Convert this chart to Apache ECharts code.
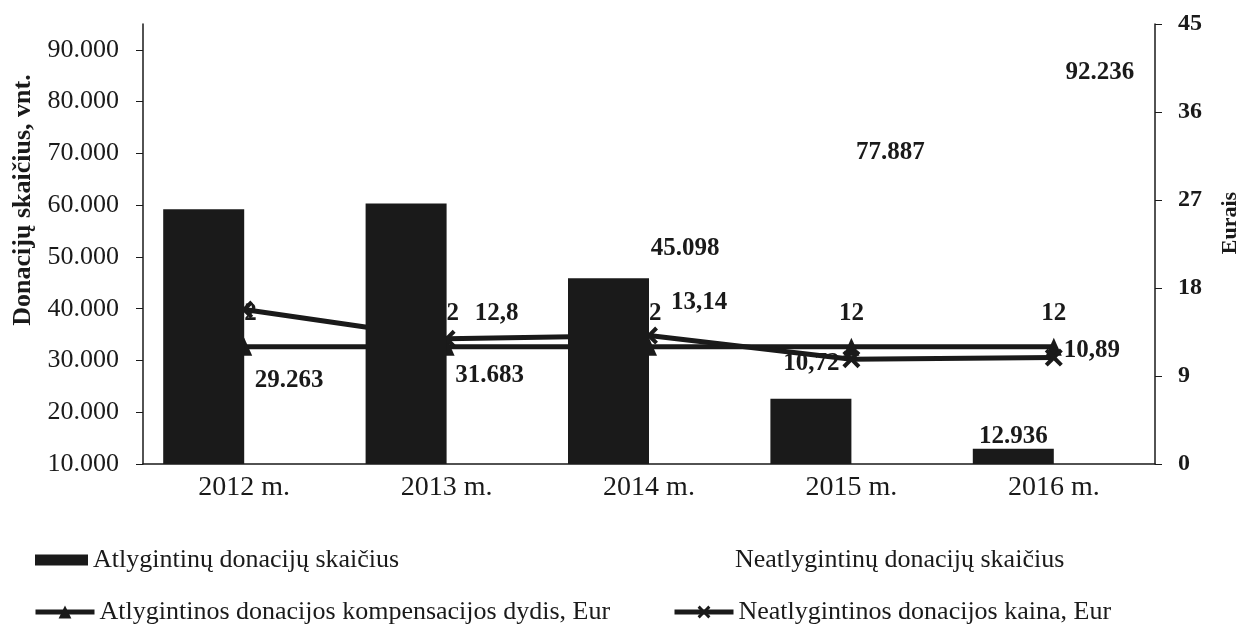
<!DOCTYPE html>
<html>
<head>
<meta charset="utf-8">
<script src="https://cdn.jsdelivr.net/npm/echarts@6/dist/echarts.min.js"></script>
<style>
  html, body { margin: 0; padding: 0; background: #fff; }
  #chart { width: 1249px; height: 630px; }
</style>
</head>
<body>
<div id="chart"></div>
<script>
const years = ['2012 m.', '2013 m.', '2014 m.', '2015 m.', '2016 m.']
const paidCount = [59200, 60300, 45900, 22600, 12936]
const unpaidCount = [29263, 31683, 45098, 77887, 92236]
const paidCompensation = [12, 12, 12, 12, 12]
const unpaidCost = [15.8, 12.8, 13.14, 10.72, 10.89]

const INK = '#1a1a1a'
const FONT = '"Liberation Serif", "Times New Roman", serif'

// label placement (Excel labels were dragged by hand)
const unpaidLabelPos = [[45, 16], [43, 24], [36, -34], [39, 40], [46, 34]]
const costLabelOffset = [[-40, 0], [50, -25], [50, -33], [-40, 4], [38, -7]]

function fmtCount(v) {
  return Math.floor(v / 1000) + '.' + String(v % 1000).padStart(3, '0')
}
function fmtEur(v) {
  return String(v).replace('.', ',')
}

const xSymbol = 'path://M0,1.6L1.6,0L5,3.4L8.4,0L10,1.6L6.6,5L10,8.4L8.4,10L5,6.6L1.6,10L0,8.4L3.4,5Z'

const labelText = { fontFamily: FONT, fontWeight: 'bold', fontSize: 25, color: INK }
const legendText = { fontFamily: FONT, fontSize: 26, color: INK }

const chart = echarts.init(document.getElementById('chart'))

chart.setOption({
  animation: false,
  backgroundColor: '#fff',
  textStyle: { fontFamily: FONT, color: INK },
  grid: { left: 143, right: 89, top: 24, bottom: 166 },
  legend: [
    { left: 30, top: 542, icon: 'rect', itemWidth: 53, itemHeight: 11, data: ['Atlygintinų donacijų skaičius'] },
    { left: 672, top: 542, icon: 'rect', itemWidth: 53, itemHeight: 11, data: ['Neatlygintinų donacijų skaičius'] },
    { left: 28, top: 594, itemWidth: 59, itemHeight: 16, data: ['Atlygintinos donacijos kompensacijos dydis, Eur'] },
    { left: 667, top: 594, itemWidth: 59, itemHeight: 16, data: ['Neatlygintinos donacijos kaina, Eur'] }
  ].map(l => Object.assign({
    textStyle: legendText,
    lineStyle: { width: 5 },
    selectedMode: false
  }, l)),
  xAxis: {
    type: 'category',
    data: years,
    axisLine: { lineStyle: { color: INK, width: 1.5 } },
    axisTick: { lineStyle: { color: INK }, length: 7 },
    axisLabel: { fontFamily: FONT, fontSize: 28, color: INK, margin: 10 }
  },
  yAxis: [
    {
      type: 'value',
      min: 10000,
      max: 95000,
      interval: 10000,
      name: 'Donacijų skaičius, vnt.',
      nameLocation: 'middle',
      nameRotate: 90,
      nameGap: 107,
      nameTextStyle: { fontFamily: FONT, fontWeight: 'bold', fontSize: 26, color: INK, padding: [0, 0, 0, 88] },
      axisLine: { show: true, lineStyle: { color: INK, width: 1.5 } },
      axisTick: { show: true, length: 7, lineStyle: { color: INK } },
      axisLabel: { fontFamily: FONT, fontSize: 26, color: INK, margin: 24, showMaxLabel: false, formatter: fmtCount },
      splitLine: { show: false }
    },
    {
      type: 'value',
      min: 0,
      max: 45,
      interval: 9,
      position: 'right',
      name: 'Eurais',
      nameLocation: 'middle',
      nameRotate: 90,
      nameGap: 64,
      nameTextStyle: { fontFamily: FONT, fontWeight: 'bold', fontSize: 22, color: INK, padding: [0, 0, 0, 42] },
      axisLine: { show: true, lineStyle: { color: INK, width: 1.5 } },
      axisTick: { show: true, length: 7, lineStyle: { color: INK } },
      axisLabel: { fontFamily: FONT, fontWeight: 'bold', fontSize: 24, color: INK, margin: 23 },
      splitLine: { show: false }
    }
  ],
  series: [
    {
      name: 'Atlygintinų donacijų skaičius',
      type: 'bar',
      z: 3,
      barWidth: 81,
      barGap: '0%',
      itemStyle: { color: INK },
      data: paidCount.map((v, i) => ({
        value: v,
        label: { show: i === paidCount.length - 1, position: 'top', distance: 0 }
      })),
      label: Object.assign({ formatter: p => fmtCount(p.value) }, labelText)
    },
    {
      name: 'Neatlygintinų donacijų skaičius',
      type: 'bar',
      z: 3,
      barWidth: 81,
      itemStyle: { color: 'rgba(255,255,255,0)' },
      data: unpaidCount.map((v, i) => ({
        value: v,
        label: { position: unpaidLabelPos[i] }
      })),
      label: Object.assign({ show: true, align: 'center', verticalAlign: 'middle', formatter: p => fmtCount(p.value) }, labelText)
    },
    {
      name: 'Atlygintinos donacijos kompensacijos dydis, Eur',
      type: 'line',
      yAxisIndex: 1,
      z: 1,
      symbol: 'triangle',
      symbolSize: [16, 18],
      lineStyle: { color: INK, width: 5 },
      itemStyle: { color: INK },
      data: paidCompensation,
      label: Object.assign({ show: true, position: 'top', distance: 12, formatter: p => fmtEur(p.value) }, labelText)
    },
    {
      name: 'Neatlygintinos donacijos kaina, Eur',
      type: 'line',
      yAxisIndex: 1,
      z: 1,
      symbol: xSymbol,
      symbolSize: 18,
      lineStyle: { color: INK, width: 5 },
      itemStyle: { color: INK },
      data: unpaidCost.map((v, i) => ({
        value: v,
        label: { offset: costLabelOffset[i] }
      })),
      label: Object.assign({ show: true, position: 'inside', formatter: p => fmtEur(p.value) }, labelText)
    }
  ]
})
</script>
</body>
</html>
